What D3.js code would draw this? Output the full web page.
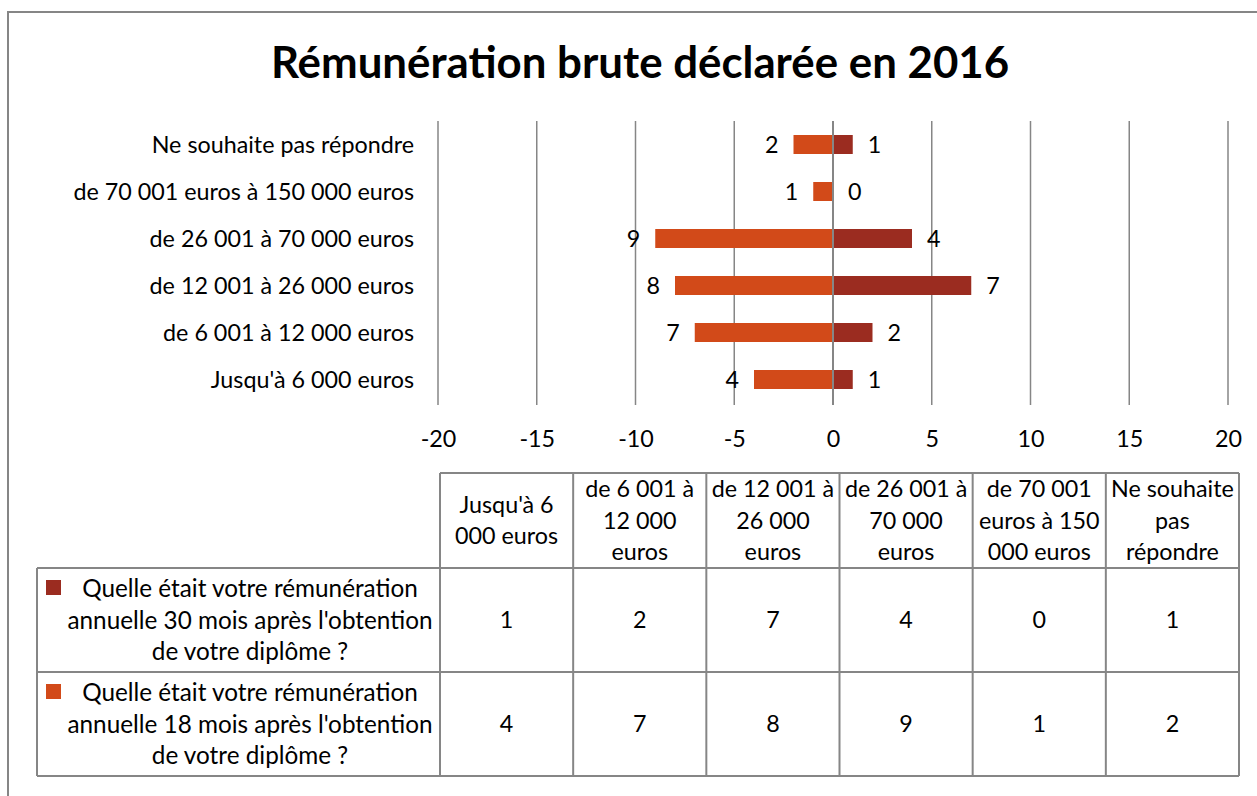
<!DOCTYPE html>
<html>
<head>
<meta charset="utf-8">
<script src="https://cdn.jsdelivr.net/npm/d3@7"></script>
<style>
	body { margin: 0; background: #fff; }
	svg text { font-family: Lato, 'Open Sans', sans-serif; fill: #000; }
</style>
</head>
<body>
<div id="chart"></div>
<script>
// Categories (bottom to top in the chart, left to right in the table)
var categories = [
	"Jusqu'à 6 000 euros",
	'de 6 001 à 12 000 euros',
	'de 12 001 à 26 000 euros',
	'de 26 001 à 70 000 euros',
	'de 70 001 euros à 150 000 euros',
	'Ne souhaite pas répondre'
];

// Wrapped header text of the data table
var headerLines = [
	["Jusqu'à 6", '000 euros'],
	['de 6 001 à', '12 000', 'euros'],
	['de 12 001 à', '26 000', 'euros'],
	['de 26 001 à', '70 000', 'euros'],
	['de 70 001', 'euros à 150', '000 euros'],
	['Ne souhaite', 'pas', 'répondre']
];

var values30 = [1, 2, 7, 4, 0, 1];
var values18 = [4, 7, 8, 9, 1, 2];

var seriesNames = [
	['Quelle était votre rémunération', "annuelle 30 mois après l'obtention", 'de votre diplôme ?'],
	['Quelle était votre rémunération', "annuelle 18 mois après l'obtention", 'de votre diplôme ?']
];

var tickValues = [-20, -15, -10, -5, 0, 5, 10, 15, 20];

var COLOR_30 = '#9B2C20';
var COLOR_18 = '#D24A19';
var GRID = '#868686';

var W = 1257, H = 796;
var fontSize = 23.3;

var svg = d3.select('#chart')
	.append('svg')
	.attr('width', W)
	.attr('height', H);

// chart frame (runs off the right and bottom edge)
svg.append('rect')
	.attr('x', 8)
	.attr('y', 12)
	.attr('width', 1260)
	.attr('height', 800)
	.attr('fill', 'none')
	.attr('stroke', GRID)
	.attr('stroke-width', 2);

svg.append('text')
	.attr('x', 640)
	.attr('y', 78)
	.attr('text-anchor', 'middle')
	.style('font-size', '43.8px')
	.style('font-weight', 'bold')
	.text('Rémunération brute déclarée en 2016');

/*
 * Scales
 */
var xScale = d3.scaleLinear()
	.domain([-20, 20])
	.range([438, 1228]);

var yScale = d3.scaleBand()
	.domain(categories.slice().reverse())
	.range([121, 403])
	.paddingInner(0)
	.paddingOuter(0);

var barH = 19;

var plot = svg.append('g');

// grid
plot.append('g')
	.attr('class', 'grid')
	.selectAll('line')
	.data(tickValues.filter(function(d) { return d != 0; }))
	.enter()
	.append('line')
	.attr('x1', function(d) { return xScale(d); })
	.attr('x2', function(d) { return xScale(d); })
	.attr('y1', 121)
	.attr('y2', 405)
	.attr('stroke', GRID)
	.attr('stroke-width', 1.5);

// x axis labels
var xAxis = d3.axisBottom(xScale)
	.tickValues(tickValues)
	.tickSize(0)
	.tickPadding(0)
	.tickFormat(function(d) { return String(d); });

var xAxisG = plot.append('g')
	.attr('transform', 'translate(0,447)')
	.call(xAxis);
xAxisG.select('.domain').remove();
xAxisG.selectAll('text')
	.attr('dy', 0)
	.attr('y', 0)
	.attr('fill', '#000')
	.style('font-size', fontSize + 'px')
	.style('font-family', 'Lato, sans-serif');

// category labels
var yAxis = d3.axisLeft(yScale)
	.tickSize(0)
	.tickPadding(0);

var yAxisG = plot.append('g')
	.attr('transform', 'translate(414,0)')
	.call(yAxis);
yAxisG.select('.domain').remove();
yAxisG.selectAll('text')
	.attr('dy', '0.35em')
	.attr('fill', '#000')
	.style('font-size', fontSize + 'px')
	.style('font-family', 'Lato, sans-serif');

// bars: 18 months to the left, 30 months to the right
plot.append('g')
	.selectAll('rect')
	.data(values18)
	.enter()
	.append('rect')
	.attr('x', function(d) { return xScale(-d); })
	.attr('width', function(d) { return xScale(0) - xScale(-d); })
	.attr('y', function(d, i) { return yScale(categories[i]) + yScale.bandwidth() / 2 - barH / 2; })
	.attr('height', barH)
	.attr('fill', COLOR_18);

plot.append('g')
	.selectAll('rect')
	.data(values30)
	.enter()
	.append('rect')
	.attr('x', xScale(0))
	.attr('width', function(d) { return xScale(d) - xScale(0); })
	.attr('y', function(d, i) { return yScale(categories[i]) + yScale.bandwidth() / 2 - barH / 2; })
	.attr('height', barH)
	.attr('fill', COLOR_30);

// zero line on top
plot.append('line')
	.attr('x1', xScale(0))
	.attr('x2', xScale(0))
	.attr('y1', 121)
	.attr('y2', 405)
	.attr('stroke', GRID)
	.attr('stroke-width', 2);

// data labels
plot.append('g')
	.selectAll('text')
	.data(values18)
	.enter()
	.append('text')
	.attr('x', function(d) { return xScale(-d) - 15; })
	.attr('y', function(d, i) { return yScale(categories[i]) + yScale.bandwidth() / 2; })
	.attr('dy', '0.35em')
	.attr('text-anchor', 'end')
	.style('font-size', fontSize + 'px')
	.text(function(d) { return d; });

plot.append('g')
	.selectAll('text')
	.data(values30)
	.enter()
	.append('text')
	.attr('x', function(d) { return xScale(d) + 15; })
	.attr('y', function(d, i) { return yScale(categories[i]) + yScale.bandwidth() / 2; })
	.attr('dy', '0.35em')
	.attr('text-anchor', 'start')
	.style('font-size', fontSize + 'px')
	.text(function(d) { return d; });

/*
 * Data table
 */
var colScale = d3.scaleBand()
	.domain(categories)
	.range([440, 1239]);

var tableLeft = 37;
var headTop = 473, headBottom = 568;
var rowBounds = [[568, 672], [672, 776]];
var lineGap = 31.5;

var table = svg.append('g').attr('class', 'data-table');

// header cells
categories.forEach(function(c, i) {
	var x0 = colScale(c);
	var cx = x0 + colScale.bandwidth() / 2;
	var lines = headerLines[i];
	var mid = (headTop + headBottom) / 2;
	lines.forEach(function(l, j) {
		table.append('text')
			.attr('x', cx)
			.attr('y', mid + (j - (lines.length - 1) / 2) * lineGap)
			.attr('dy', '0.35em')
			.attr('text-anchor', 'middle')
			.style('font-size', fontSize + 'px')
			.text(l);
	});
});

// body rows
var rowData = [values30, values18];
var rowColors = [COLOR_30, COLOR_18];

rowData.forEach(function(vals, r) {
	var top = rowBounds[r][0], bottom = rowBounds[r][1];
	var mid = (top + bottom) / 2;

	table.append('rect')
		.attr('x', 46)
		.attr('y', top + 12)
		.attr('width', 15)
		.attr('height', 15)
		.attr('fill', rowColors[r]);

	seriesNames[r].forEach(function(l, j) {
		table.append('text')
			.attr('x', 250)
			.attr('y', mid + (j - 1) * lineGap)
			.attr('dy', '0.35em')
			.attr('text-anchor', 'middle')
			.style('font-size', '24.3px')
			.text(l);
	});

	vals.forEach(function(v, i) {
		table.append('text')
			.attr('x', colScale(categories[i]) + colScale.bandwidth() / 2)
			.attr('y', mid)
			.attr('dy', '0.35em')
			.attr('text-anchor', 'middle')
			.style('font-size', fontSize + 'px')
			.text(v);
	});
});

// table lines
var hLines = [
	[440, 1239, headTop],
	[tableLeft, 1239, headBottom],
	[tableLeft, 1239, rowBounds[0][1]],
	[tableLeft, 1239, rowBounds[1][1]]
];
hLines.forEach(function(h) {
	table.append('line')
		.attr('x1', h[0]).attr('x2', h[1])
		.attr('y1', h[2]).attr('y2', h[2])
		.attr('stroke', GRID).attr('stroke-width', 2);
});

table.append('line')
	.attr('x1', tableLeft).attr('x2', tableLeft)
	.attr('y1', headBottom).attr('y2', rowBounds[1][1])
	.attr('stroke', GRID).attr('stroke-width', 2);

var colEdges = categories.map(function(c) { return colScale(c); }).concat([colScale.range()[1]]);
colEdges.forEach(function(x) {
	table.append('line')
		.attr('x1', x).attr('x2', x)
		.attr('y1', headTop).attr('y2', rowBounds[1][1])
		.attr('stroke', GRID).attr('stroke-width', 2);
});
</script>
</body>
</html>
